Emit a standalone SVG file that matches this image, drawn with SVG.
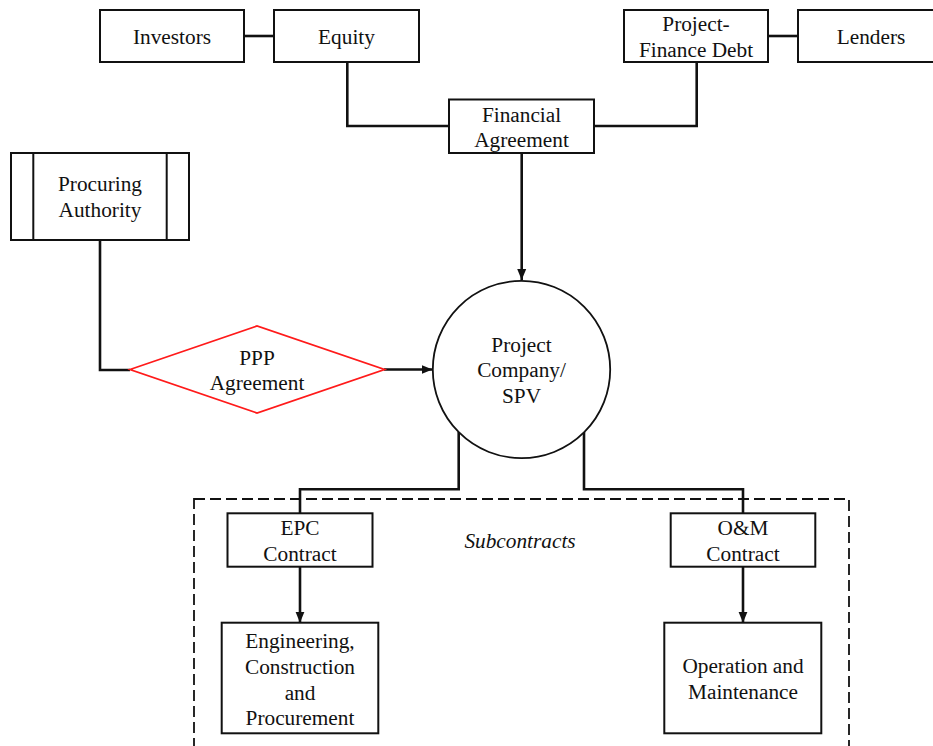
<svg xmlns="http://www.w3.org/2000/svg" width="933" height="746" viewBox="0 0 933 746">
  <style>
    text { font-size: 21.3px; fill: #111; text-anchor: middle; }
    .box { fill: #fff; stroke: #111; stroke-width: 2; }
    .wire { fill: none; stroke: #111; stroke-width: 2.6; }
    .ppp { fill: #fff; stroke: #ff1a1a; stroke-width: 1.8; }
    .spv { fill: #fff; stroke: #111; stroke-width: 1.8; }
    .group { fill: none; stroke: #111; stroke-width: 1.8; stroke-dasharray: 11 5; }
  </style>
  <defs>
    <marker id="arrow" markerUnits="userSpaceOnUse" markerWidth="12" markerHeight="12" viewBox="0 0 12 12" refX="11" refY="6" orient="auto">
      <path d="M0,1.5 L11,6 L0,10.5 Z" fill="#111"/>
    </marker>
  </defs>
  <rect width="933" height="746" fill="#fff"/>

  <g font-family="Liberation Serif, Tinos, DejaVu Serif, serif">
  <!-- subcontract boundary -->
  <rect class="group" x="194" y="499" width="655" height="270"/>
  <text x="520" y="548" font-style="italic">Subcontracts</text>

  <g id="connectors">
    <line class="wire" x1="244" y1="36" x2="274" y2="36"/>
    <line class="wire" x1="768" y1="36" x2="798" y2="36"/>
    <polyline class="wire" points="347.3,62 347.3,126 449,126"/>
    <polyline class="wire" points="696.7,62 696.7,126 594,126"/>
    <line class="wire" x1="521.7" y1="153" x2="521.7" y2="280" marker-end="url(#arrow)"/>
    <polyline class="wire" points="100,240 100,370 130,370"/>
    <line class="wire" x1="384" y1="369.5" x2="432.5" y2="369.5" marker-end="url(#arrow)"/>
    <polyline class="wire" points="458.7,432 458.7,489.3 300,489.3 300,513.3"/>
    <polyline class="wire" points="584,432 584,489.3 743,489.3 743,513.3"/>
    <line class="wire" x1="300" y1="566.7" x2="300" y2="622.7" marker-end="url(#arrow)"/>
    <line class="wire" x1="743" y1="566.7" x2="743" y2="622.7" marker-end="url(#arrow)"/>
  </g>

  <g id="investors">
    <rect class="box" x="100" y="10" width="144" height="52"/>
    <text x="172" y="43.5">Investors</text>
  </g>
  <g id="equity">
    <rect class="box" x="274" y="10" width="145" height="52"/>
    <text x="346.5" y="43.5">Equity</text>
  </g>
  <g id="project-finance-debt">
    <rect class="box" x="624" y="10" width="144" height="52"/>
    <text x="696" y="31">Project-</text>
    <text x="696" y="57">Finance Debt</text>
  </g>
  <g id="lenders">
    <rect class="box" x="798" y="10" width="146" height="52"/>
    <text x="871" y="43.5">Lenders</text>
  </g>
  <g id="financial-agreement">
    <rect class="box" x="449" y="99.5" width="145" height="53.5"/>
    <text x="521.5" y="121.5">Financial</text>
    <text x="521.5" y="147">Agreement</text>
  </g>
  <g id="procuring-authority">
    <rect class="box" x="11" y="153" width="178" height="87"/>
    <line class="box" x1="33.3" y1="153" x2="33.3" y2="240"/>
    <line class="box" x1="166.7" y1="153" x2="166.7" y2="240"/>
    <text x="100" y="191">Procuring</text>
    <text x="100" y="216.5">Authority</text>
  </g>
  <g id="ppp-agreement">
    <polygon class="ppp" points="130,369.5 257,326 384.5,369.5 257,413"/>
    <text x="257" y="364.5">PPP</text>
    <text x="257" y="390">Agreement</text>
  </g>
  <g id="project-company">
    <circle class="spv" cx="521.5" cy="369.5" r="88.7"/>
    <text x="521.5" y="351.5">Project</text>
    <text x="521.5" y="377.3">Company/</text>
    <text x="521.5" y="403">SPV</text>
  </g>
  <g id="epc-contract">
    <rect class="box" x="227.5" y="513.3" width="145" height="53.4"/>
    <text x="300" y="535">EPC</text>
    <text x="300" y="561">Contract</text>
  </g>
  <g id="om-contract">
    <rect class="box" x="670.7" y="513.3" width="144.6" height="53.4"/>
    <text x="743" y="535">O&amp;M</text>
    <text x="743" y="561">Contract</text>
  </g>
  <g id="epc-works">
    <rect class="box" x="221.7" y="622.7" width="156.6" height="110.6"/>
    <text x="300" y="648.3">Engineering,</text>
    <text x="300" y="674">Construction</text>
    <text x="300" y="699.5">and</text>
    <text x="300" y="725">Procurement</text>
  </g>
  <g id="operation-maintenance">
    <rect class="box" x="664.3" y="622.7" width="157" height="110.6"/>
    <text x="743" y="673.3">Operation and</text>
    <text x="743" y="699.3">Maintenance</text>
  </g>
  </g>
</svg>
